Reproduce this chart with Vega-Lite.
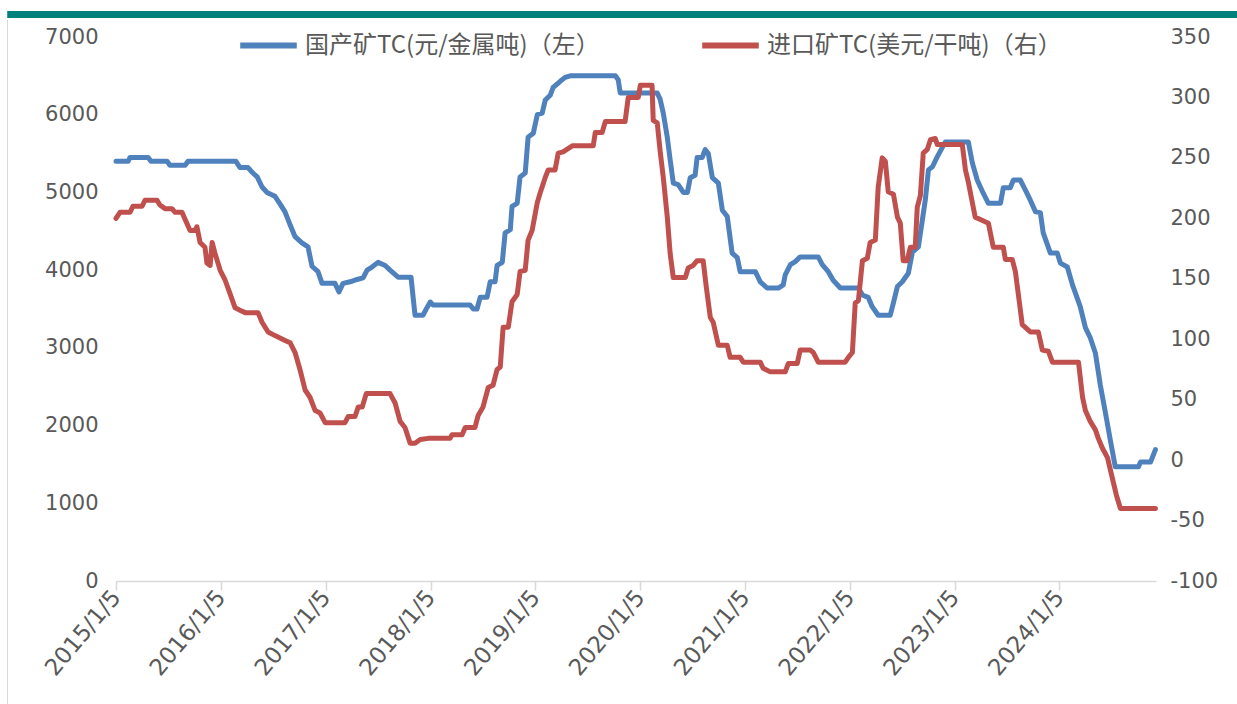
{
  "$schema": "https://vega.github.io/schema/vega-lite/v6.json",
  "width": 1040,
  "height": 544,
  "autosize": {"type": "none"},
  "padding": {"left": 116, "top": 37, "right": 81, "bottom": 123},
  "background": "white",
  "config": {
    "view": {"stroke": null},
    "font": "DejaVu Sans",
    "axis": {"grid": false, "title": null, "labelColor": "#595959", "labelFontSize": 21, "labelFont": "DejaVu Sans"},
    "legend": {"title": null, "labelFont": "Noto Sans CJK SC", "labelFontSize": 24, "labelColor": "#595959", "labelLimit": 0, "symbolType": "stroke", "symbolSize": 3200, "symbolStrokeWidth": 6, "labelOffset": 5, "padding": 0}
  },
  "datasets": {
    "domestic": [
      {"date": "2015-01-05", "tc": 5400}, {"date": "2015-02-16", "tc": 5400}, {"date": "2015-02-23", "tc": 5450}, {"date": "2015-04-27", "tc": 5450},
      {"date": "2015-05-07", "tc": 5400}, {"date": "2015-07-02", "tc": 5400}, {"date": "2015-07-12", "tc": 5350}, {"date": "2015-09-03", "tc": 5350},
      {"date": "2015-09-13", "tc": 5400}, {"date": "2016-02-27", "tc": 5400}, {"date": "2016-03-12", "tc": 5320}, {"date": "2016-04-09", "tc": 5320},
      {"date": "2016-04-23", "tc": 5260}, {"date": "2016-05-11", "tc": 5200}, {"date": "2016-05-28", "tc": 5070}, {"date": "2016-06-14", "tc": 5000},
      {"date": "2016-07-12", "tc": 4950}, {"date": "2016-07-30", "tc": 4850}, {"date": "2016-08-16", "tc": 4750}, {"date": "2016-09-03", "tc": 4580},
      {"date": "2016-09-20", "tc": 4430}, {"date": "2016-10-14", "tc": 4350}, {"date": "2016-11-04", "tc": 4300}, {"date": "2016-11-18", "tc": 4050},
      {"date": "2016-12-09", "tc": 3980}, {"date": "2016-12-23", "tc": 3830}, {"date": "2017-02-06", "tc": 3830}, {"date": "2017-02-20", "tc": 3720},
      {"date": "2017-03-06", "tc": 3830}, {"date": "2017-03-31", "tc": 3850}, {"date": "2017-04-24", "tc": 3880}, {"date": "2017-05-15", "tc": 3900},
      {"date": "2017-05-29", "tc": 4000}, {"date": "2017-06-15", "tc": 4040}, {"date": "2017-07-06", "tc": 4100}, {"date": "2017-07-31", "tc": 4060},
      {"date": "2017-08-17", "tc": 4000}, {"date": "2017-09-14", "tc": 3910}, {"date": "2017-10-29", "tc": 3910}, {"date": "2017-11-12", "tc": 3420},
      {"date": "2017-12-10", "tc": 3420}, {"date": "2017-12-24", "tc": 3520}, {"date": "2018-01-04", "tc": 3590}, {"date": "2018-01-14", "tc": 3550},
      {"date": "2018-05-23", "tc": 3550}, {"date": "2018-06-03", "tc": 3500}, {"date": "2018-06-16", "tc": 3500}, {"date": "2018-06-27", "tc": 3650},
      {"date": "2018-07-21", "tc": 3650}, {"date": "2018-08-01", "tc": 3850}, {"date": "2018-08-18", "tc": 3850}, {"date": "2018-08-25", "tc": 4060},
      {"date": "2018-09-12", "tc": 4100}, {"date": "2018-09-22", "tc": 4480}, {"date": "2018-10-10", "tc": 4520}, {"date": "2018-10-16", "tc": 4820},
      {"date": "2018-11-03", "tc": 4860}, {"date": "2018-11-13", "tc": 5200}, {"date": "2018-12-01", "tc": 5250}, {"date": "2018-12-11", "tc": 5710},
      {"date": "2018-12-29", "tc": 5760}, {"date": "2019-01-12", "tc": 6000}, {"date": "2019-01-29", "tc": 6020}, {"date": "2019-02-09", "tc": 6190},
      {"date": "2019-02-26", "tc": 6250}, {"date": "2019-03-08", "tc": 6350}, {"date": "2019-04-02", "tc": 6430}, {"date": "2019-04-19", "tc": 6480},
      {"date": "2019-05-07", "tc": 6500}, {"date": "2019-10-11", "tc": 6500}, {"date": "2019-10-21", "tc": 6450}, {"date": "2019-10-28", "tc": 6280},
      {"date": "2020-03-05", "tc": 6280}, {"date": "2020-03-15", "tc": 6200}, {"date": "2020-03-26", "tc": 6020}, {"date": "2020-04-09", "tc": 5710},
      {"date": "2020-04-19", "tc": 5420}, {"date": "2020-04-30", "tc": 5120}, {"date": "2020-05-17", "tc": 5100}, {"date": "2020-06-04", "tc": 5000},
      {"date": "2020-06-18", "tc": 5000}, {"date": "2020-06-28", "tc": 5190}, {"date": "2020-07-15", "tc": 5220}, {"date": "2020-07-22", "tc": 5450},
      {"date": "2020-08-09", "tc": 5450}, {"date": "2020-08-19", "tc": 5550}, {"date": "2020-08-30", "tc": 5500}, {"date": "2020-09-13", "tc": 5190},
      {"date": "2020-10-04", "tc": 5120}, {"date": "2020-10-18", "tc": 4770}, {"date": "2020-11-04", "tc": 4690}, {"date": "2020-11-21", "tc": 4220},
      {"date": "2020-12-09", "tc": 4160}, {"date": "2020-12-19", "tc": 3980}, {"date": "2021-02-10", "tc": 3980}, {"date": "2021-02-27", "tc": 3850},
      {"date": "2021-03-23", "tc": 3770}, {"date": "2021-05-01", "tc": 3770}, {"date": "2021-05-18", "tc": 3810}, {"date": "2021-05-25", "tc": 3940},
      {"date": "2021-06-12", "tc": 4070}, {"date": "2021-06-29", "tc": 4110}, {"date": "2021-07-16", "tc": 4170}, {"date": "2021-09-17", "tc": 4170},
      {"date": "2021-10-01", "tc": 4070}, {"date": "2021-10-22", "tc": 3980}, {"date": "2021-11-08", "tc": 3870}, {"date": "2021-12-03", "tc": 3770},
      {"date": "2022-02-04", "tc": 3770}, {"date": "2022-02-18", "tc": 3680}, {"date": "2022-03-10", "tc": 3650}, {"date": "2022-03-24", "tc": 3530},
      {"date": "2022-04-14", "tc": 3420}, {"date": "2022-05-26", "tc": 3420}, {"date": "2022-06-06", "tc": 3580}, {"date": "2022-06-20", "tc": 3790},
      {"date": "2022-07-07", "tc": 3850}, {"date": "2022-07-28", "tc": 3960}, {"date": "2022-08-11", "tc": 4230}, {"date": "2022-09-01", "tc": 4300},
      {"date": "2022-09-15", "tc": 4650}, {"date": "2022-09-25", "tc": 4900}, {"date": "2022-10-06", "tc": 5290}, {"date": "2022-10-20", "tc": 5330},
      {"date": "2022-11-06", "tc": 5460}, {"date": "2022-12-04", "tc": 5650}, {"date": "2023-02-22", "tc": 5650}, {"date": "2023-03-08", "tc": 5380},
      {"date": "2023-03-25", "tc": 5160}, {"date": "2023-04-15", "tc": 4990}, {"date": "2023-05-03", "tc": 4860}, {"date": "2023-06-14", "tc": 4860},
      {"date": "2023-06-24", "tc": 5060}, {"date": "2023-07-18", "tc": 5060}, {"date": "2023-07-29", "tc": 5160}, {"date": "2023-08-22", "tc": 5160},
      {"date": "2023-09-09", "tc": 5030}, {"date": "2023-09-26", "tc": 4900}, {"date": "2023-10-14", "tc": 4750}, {"date": "2023-10-31", "tc": 4740},
      {"date": "2023-11-10", "tc": 4480}, {"date": "2023-12-05", "tc": 4220}, {"date": "2023-12-29", "tc": 4220}, {"date": "2024-01-09", "tc": 4090},
      {"date": "2024-02-02", "tc": 4040}, {"date": "2024-02-20", "tc": 3810}, {"date": "2024-03-18", "tc": 3530}, {"date": "2024-04-05", "tc": 3260},
      {"date": "2024-04-22", "tc": 3130}, {"date": "2024-05-10", "tc": 2930}, {"date": "2024-05-27", "tc": 2520}, {"date": "2024-06-14", "tc": 2160},
      {"date": "2024-07-01", "tc": 1810}, {"date": "2024-07-18", "tc": 1470}, {"date": "2024-10-07", "tc": 1470}, {"date": "2024-10-14", "tc": 1530},
      {"date": "2024-11-18", "tc": 1530}, {"date": "2024-12-05", "tc": 1690}
    ],
    "imported": [
      {"date": "2015-01-05", "tc": 200}, {"date": "2015-01-19", "tc": 205}, {"date": "2015-02-23", "tc": 205}, {"date": "2015-03-05", "tc": 210},
      {"date": "2015-04-06", "tc": 210}, {"date": "2015-04-16", "tc": 215}, {"date": "2015-05-28", "tc": 215}, {"date": "2015-06-07", "tc": 211},
      {"date": "2015-06-25", "tc": 208}, {"date": "2015-07-19", "tc": 208}, {"date": "2015-07-30", "tc": 205}, {"date": "2015-08-23", "tc": 205},
      {"date": "2015-09-03", "tc": 199}, {"date": "2015-09-20", "tc": 190}, {"date": "2015-10-07", "tc": 190}, {"date": "2015-10-14", "tc": 193},
      {"date": "2015-10-25", "tc": 180}, {"date": "2015-11-11", "tc": 176}, {"date": "2015-11-18", "tc": 163}, {"date": "2015-11-29", "tc": 161},
      {"date": "2015-12-06", "tc": 180}, {"date": "2015-12-16", "tc": 171}, {"date": "2016-01-03", "tc": 157}, {"date": "2016-01-20", "tc": 149},
      {"date": "2016-02-06", "tc": 138}, {"date": "2016-02-24", "tc": 126}, {"date": "2016-03-12", "tc": 124}, {"date": "2016-03-30", "tc": 122},
      {"date": "2016-05-14", "tc": 122}, {"date": "2016-05-28", "tc": 114}, {"date": "2016-06-18", "tc": 106}, {"date": "2016-07-12", "tc": 103},
      {"date": "2016-08-16", "tc": 99}, {"date": "2016-09-03", "tc": 97}, {"date": "2016-09-20", "tc": 89}, {"date": "2016-10-07", "tc": 75},
      {"date": "2016-10-25", "tc": 58}, {"date": "2016-11-11", "tc": 52}, {"date": "2016-11-29", "tc": 41}, {"date": "2016-12-16", "tc": 39},
      {"date": "2017-01-03", "tc": 31}, {"date": "2017-03-13", "tc": 31}, {"date": "2017-03-24", "tc": 36}, {"date": "2017-04-17", "tc": 36},
      {"date": "2017-04-28", "tc": 44}, {"date": "2017-05-12", "tc": 44}, {"date": "2017-05-26", "tc": 55}, {"date": "2017-08-17", "tc": 55},
      {"date": "2017-09-04", "tc": 47}, {"date": "2017-09-21", "tc": 32}, {"date": "2017-10-08", "tc": 27}, {"date": "2017-10-26", "tc": 14},
      {"date": "2017-11-12", "tc": 14}, {"date": "2017-11-30", "tc": 17}, {"date": "2017-12-28", "tc": 18}, {"date": "2018-03-14", "tc": 18},
      {"date": "2018-03-21", "tc": 21}, {"date": "2018-04-25", "tc": 21}, {"date": "2018-05-06", "tc": 27}, {"date": "2018-06-09", "tc": 27},
      {"date": "2018-06-20", "tc": 37}, {"date": "2018-07-07", "tc": 44}, {"date": "2018-07-25", "tc": 60}, {"date": "2018-08-11", "tc": 62},
      {"date": "2018-08-25", "tc": 75}, {"date": "2018-09-05", "tc": 77}, {"date": "2018-09-15", "tc": 110}, {"date": "2018-10-03", "tc": 110},
      {"date": "2018-10-16", "tc": 131}, {"date": "2018-11-03", "tc": 137}, {"date": "2018-11-13", "tc": 156}, {"date": "2018-12-01", "tc": 157},
      {"date": "2018-12-11", "tc": 182}, {"date": "2018-12-25", "tc": 190}, {"date": "2019-01-12", "tc": 213}, {"date": "2019-01-22", "tc": 221},
      {"date": "2019-02-09", "tc": 234}, {"date": "2019-02-19", "tc": 240}, {"date": "2019-03-15", "tc": 240}, {"date": "2019-03-26", "tc": 254},
      {"date": "2019-04-12", "tc": 255}, {"date": "2019-05-14", "tc": 260}, {"date": "2019-07-26", "tc": 260}, {"date": "2019-08-02", "tc": 271},
      {"date": "2019-08-26", "tc": 271}, {"date": "2019-09-06", "tc": 280}, {"date": "2019-11-14", "tc": 280}, {"date": "2019-11-25", "tc": 300},
      {"date": "2019-12-30", "tc": 300}, {"date": "2020-01-06", "tc": 310}, {"date": "2020-02-16", "tc": 310}, {"date": "2020-02-20", "tc": 281},
      {"date": "2020-03-05", "tc": 279}, {"date": "2020-03-15", "tc": 256}, {"date": "2020-03-26", "tc": 234}, {"date": "2020-04-09", "tc": 201},
      {"date": "2020-04-19", "tc": 171}, {"date": "2020-04-30", "tc": 151}, {"date": "2020-06-11", "tc": 151}, {"date": "2020-06-21", "tc": 159},
      {"date": "2020-07-08", "tc": 161}, {"date": "2020-07-22", "tc": 165}, {"date": "2020-08-12", "tc": 165}, {"date": "2020-08-23", "tc": 143},
      {"date": "2020-09-06", "tc": 118}, {"date": "2020-09-16", "tc": 114}, {"date": "2020-10-04", "tc": 95}, {"date": "2020-11-04", "tc": 95},
      {"date": "2020-11-14", "tc": 85}, {"date": "2020-12-19", "tc": 85}, {"date": "2020-12-30", "tc": 81}, {"date": "2021-02-27", "tc": 81},
      {"date": "2021-03-09", "tc": 76}, {"date": "2021-04-03", "tc": 73}, {"date": "2021-05-25", "tc": 73}, {"date": "2021-06-05", "tc": 80},
      {"date": "2021-07-06", "tc": 80}, {"date": "2021-07-16", "tc": 91}, {"date": "2021-08-20", "tc": 91}, {"date": "2021-08-31", "tc": 89},
      {"date": "2021-09-17", "tc": 81}, {"date": "2021-12-20", "tc": 81}, {"date": "2021-12-31", "tc": 85}, {"date": "2022-01-14", "tc": 89},
      {"date": "2022-01-24", "tc": 130}, {"date": "2022-02-04", "tc": 132}, {"date": "2022-02-18", "tc": 165}, {"date": "2022-03-07", "tc": 167},
      {"date": "2022-03-17", "tc": 180}, {"date": "2022-04-04", "tc": 182}, {"date": "2022-04-14", "tc": 226}, {"date": "2022-04-28", "tc": 250},
      {"date": "2022-05-09", "tc": 247}, {"date": "2022-05-19", "tc": 222}, {"date": "2022-06-06", "tc": 220}, {"date": "2022-06-20", "tc": 201},
      {"date": "2022-06-30", "tc": 196}, {"date": "2022-07-10", "tc": 165}, {"date": "2022-07-24", "tc": 165}, {"date": "2022-08-04", "tc": 176},
      {"date": "2022-08-21", "tc": 176}, {"date": "2022-08-28", "tc": 209}, {"date": "2022-09-08", "tc": 219}, {"date": "2022-09-18", "tc": 254},
      {"date": "2022-10-02", "tc": 257}, {"date": "2022-10-13", "tc": 265}, {"date": "2022-10-30", "tc": 266}, {"date": "2022-11-06", "tc": 261},
      {"date": "2023-02-01", "tc": 261}, {"date": "2023-02-12", "tc": 240}, {"date": "2023-02-22", "tc": 230}, {"date": "2023-03-08", "tc": 213},
      {"date": "2023-03-18", "tc": 201}, {"date": "2023-04-05", "tc": 199}, {"date": "2023-05-03", "tc": 196}, {"date": "2023-05-20", "tc": 176},
      {"date": "2023-06-24", "tc": 176}, {"date": "2023-07-01", "tc": 166}, {"date": "2023-07-25", "tc": 166}, {"date": "2023-08-05", "tc": 156},
      {"date": "2023-08-29", "tc": 112}, {"date": "2023-09-26", "tc": 106}, {"date": "2023-10-24", "tc": 106}, {"date": "2023-11-07", "tc": 91},
      {"date": "2023-11-28", "tc": 90}, {"date": "2023-12-12", "tc": 81}, {"date": "2024-03-12", "tc": 81}, {"date": "2024-03-26", "tc": 52},
      {"date": "2024-04-05", "tc": 41}, {"date": "2024-04-22", "tc": 32}, {"date": "2024-05-10", "tc": 25}, {"date": "2024-05-20", "tc": 18},
      {"date": "2024-06-03", "tc": 10}, {"date": "2024-06-21", "tc": 2}, {"date": "2024-07-12", "tc": -19}, {"date": "2024-07-22", "tc": -29},
      {"date": "2024-08-05", "tc": -40}, {"date": "2024-12-05", "tc": -40}
    ]
  },
  "layer": [
    {
      "data": {"values": [{}]},
      "layer": [
        {
          "mark": {"type": "rule", "color": "#00817C", "strokeWidth": 7},
          "encoding": {
            "x": {"datum": {"year": 2013, "month": 12, "date": 22, "utc": true}, "type": "temporal",
                  "scale": {"type": "utc", "nice": false, "domain": [{"year": 2015, "month": 1, "date": 5, "utc": true}, {"year": 2024, "month": 12, "date": 7, "utc": true}]}},
            "x2": {"datum": {"year": 2025, "month": 10, "date": 1, "utc": true}},
            "y": {"datum": 7290, "type": "quantitative", "scale": {"domain": [0, 7000], "nice": false, "zero": false}, "axis": null}
          }
        },
        {
          "mark": {"type": "rule", "color": "#D9D9D9", "strokeWidth": 1},
          "encoding": {
            "x": {"datum": {"year": 2013, "month": 12, "date": 23, "utc": true}, "type": "temporal"},
            "y": {"datum": 7220, "type": "quantitative", "axis": null},
            "y2": {"datum": -1600}
          }
        }
      ]
    },
    {
      "data": {"name": "domestic"},
      "mark": {"type": "line", "strokeWidth": 5, "strokeJoin": "round", "strokeCap": "round"},
      "encoding": {
        "x": {
          "field": "date", "type": "temporal",
          "scale": {"type": "utc", "nice": false, "domain": [{"year": 2015, "month": 1, "date": 5, "utc": true}, {"year": 2024, "month": 12, "date": 7, "utc": true}]},
          "axis": {
            "values": [
              {"year": 2015, "month": 1, "date": 5, "utc": true}, {"year": 2016, "month": 1, "date": 5, "utc": true},
              {"year": 2017, "month": 1, "date": 5, "utc": true}, {"year": 2018, "month": 1, "date": 5, "utc": true},
              {"year": 2019, "month": 1, "date": 5, "utc": true}, {"year": 2020, "month": 1, "date": 5, "utc": true},
              {"year": 2021, "month": 1, "date": 5, "utc": true}, {"year": 2022, "month": 1, "date": 5, "utc": true},
              {"year": 2023, "month": 1, "date": 5, "utc": true}, {"year": 2024, "month": 1, "date": 5, "utc": true}
            ],
            "labelExpr": "utcFormat(datum.value, '%Y/%-m/%-d')",
            "labelAngle": -50,
            "labelAlign": "right",
            "labelBaseline": "middle",
            "labelFontSize": 23,
            "labelPadding": 3,
            "labelOverlap": false,
            "labelFlush": false,
            "domainColor": "#D9D9D9",
            "domainWidth": 1.5,
            "tickColor": "#D9D9D9",
            "tickWidth": 1.5,
            "tickSize": 9
          }
        },
        "y": {
          "field": "tc", "type": "quantitative",
          "scale": {"domain": [0, 7000], "nice": false, "zero": false},
          "axis": {"orient": "left", "values": [0, 1000, 2000, 3000, 4000, 5000, 6000, 7000], "labelExpr": "datum.value + ''", "domain": false, "ticks": false, "labelPadding": 18, "labelFlush": false}
        },
        "color": {
          "datum": "国产矿TC(元/金属吨)（左）",
          "scale": {"range": ["#4F81BD"]},
          "legend": {"orient": "none", "legendX": 121, "legendY": -23}
        }
      }
    },
    {
      "data": {"name": "imported"},
      "mark": {"type": "line", "strokeWidth": 5, "strokeJoin": "round", "strokeCap": "round"},
      "encoding": {
        "x": {"field": "date", "type": "temporal"},
        "y": {
          "field": "tc", "type": "quantitative",
          "scale": {"domain": [-100, 350], "nice": false, "zero": false},
          "axis": {"orient": "right", "values": [-100, -50, 0, 50, 100, 150, 200, 250, 300, 350], "labelExpr": "datum.value + ''", "domain": false, "ticks": false, "labelPadding": 14, "labelFlush": false}
        },
        "color": {
          "datum": "进口矿TC(美元/干吨)（右）",
          "scale": {"range": ["#C0504D"]},
          "legend": {"orient": "none", "legendX": 583, "legendY": -23}
        }
      }
    }
  ],
  "resolve": {"scale": {"y": "independent", "color": "independent"}}
}
